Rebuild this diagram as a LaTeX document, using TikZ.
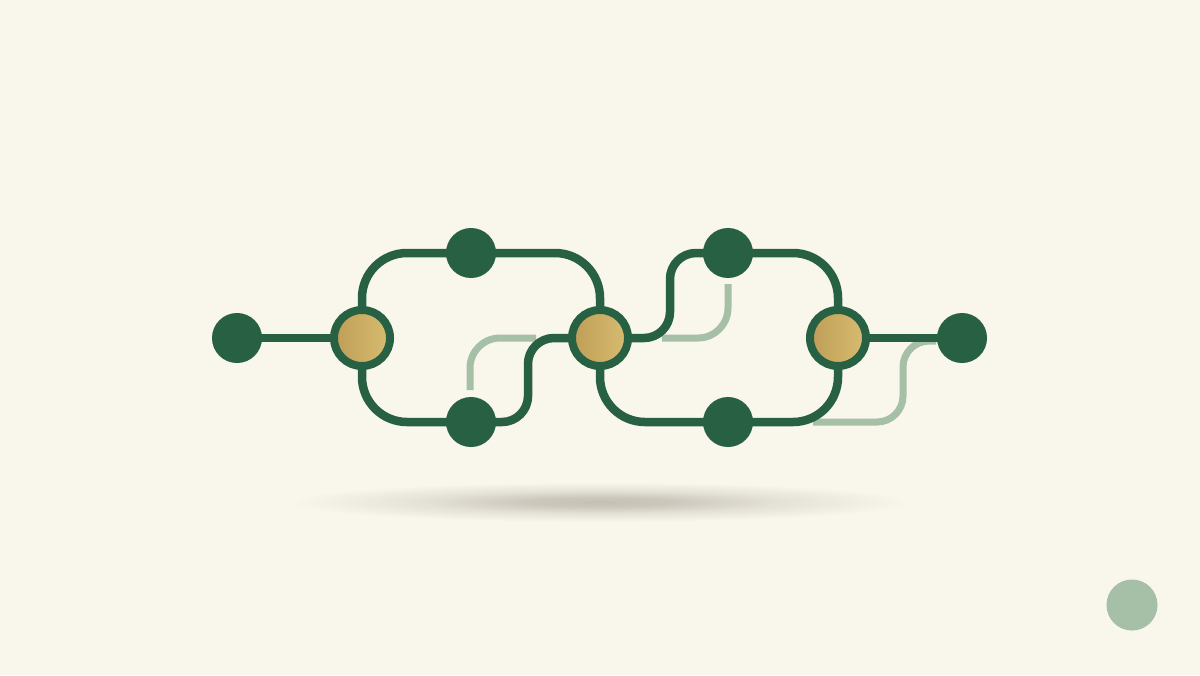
\documentclass[tikz,border=0pt]{standalone}
\usetikzlibrary{backgrounds}
\definecolor{bg}{RGB}{249,246,236}
\definecolor{dkgreen}{RGB}{40,96,68}
\definecolor{goldA}{RGB}{190,158,86}
\definecolor{goldB}{RGB}{216,188,114}
\definecolor{ltgreen}{RGB}{166,192,168}
\definecolor{shc}{RGB}{196,192,180}
\pgfdeclareradialshading{shadowshade}{\pgfpoint{0bp}{0bp}}{color(0bp)=(shc); color(6bp)=(shc!85!bg); color(14bp)=(shc!40!bg); color(25bp)=(bg); color(50bp)=(bg)}
\begin{document}
\begin{tikzpicture}[x=0.01cm,y=-0.01cm,
  dot/.style={circle,fill=dkgreen,minimum size=0.5cm,inner sep=0pt},
  hub/.style={circle,draw=dkgreen,line width=0.08cm,left color=goldA,right color=goldB,minimum size=0.56cm,inner sep=0pt},
  wire/.style={draw=dkgreen,line width=0.085cm,rounded corners=0.45cm},
  sbend/.style={wire,rounded corners=0.26cm},
  ghost/.style={draw=ltgreen,line width=0.07cm,rounded corners=0.3cm}]
\useasboundingbox (0,0) rectangle (1200,675);
% nodes
\node[dot] (e1) at (237,338) {};
\node[hub] (g1) at (362,338) {};
\node[dot] (t1) at (471,253) {};
\node[dot] (b1) at (471,422) {};
\node[hub] (g2) at (600,338) {};
\node[dot] (t2) at (728,253) {};
\node[dot] (b2) at (728,422) {};
\node[hub] (g3) at (838,338) {};
\node[dot] (e2) at (962,338) {};
\node[circle,fill=ltgreen,minimum size=0.51cm,inner sep=0pt] (deco) at (1132,605) {};
\coordinate (s1) at (528,380);
\coordinate (s2) at (670,300);
\begin{pgfonlayer}{background}
  \fill[bg] (0,0) rectangle (1200,675);
  \shade[shading=shadowshade] (600,502) ellipse [x radius=3.1cm, y radius=0.2cm];
  % ghost curves
  \draw[ghost] (470,390) -- (470,338) -- (536,338);
  \draw[ghost] (728,284) -- (728,338) -- (662,338);
  \draw[ghost,rounded corners=0.26cm] (936,341) -- (903,341) -- (903,422) -- (813,422);
  % wires
  \draw[wire] (e1.center) -- (g1.center);
  \draw[wire] (g1.center) |- (t1.center) -| (g2.center);
  \draw[wire] (g1.center) |- (b1.center);
  \draw[sbend] (b1.center) -- (b1.center -| s1) -- (g2.center -| s1) -- (g2.center);
  \draw[sbend] (g2.center) -- (g2.center -| s2) -- (t2.center -| s2) -- (t2.center);
  \draw[wire] (t2.center) -| (g3.center);
  \draw[wire] (g2.center) |- (b2.center) -| (g3.center);
  \draw[wire] (g3.center) -- (e2.center);
\end{pgfonlayer}
\end{tikzpicture}
\end{document}
